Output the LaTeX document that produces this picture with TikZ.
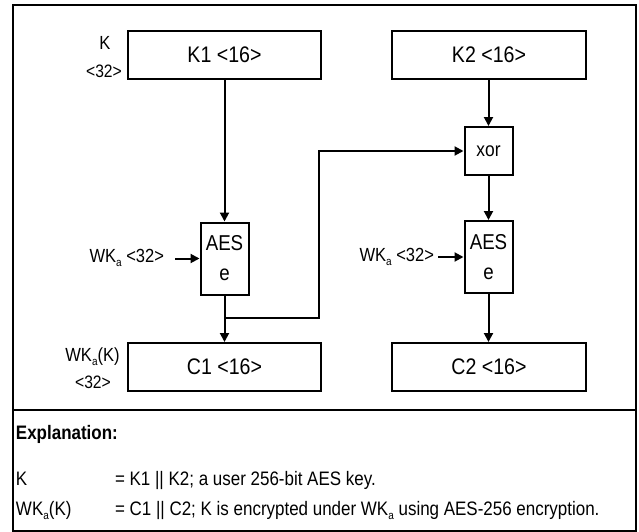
\documentclass[tikz,border=0pt]{standalone}
\usepackage{fontspec}
\setmainfont[FakeStretch=0.87]{Liberation Sans}
\usetikzlibrary{arrows.meta}
\newcommand\myfs[1]{\fontsize{#1}{#1}\selectfont}
\newcommand\sbs[1]{\raisebox{-4pt}{\myfs{11.5}#1}}
\begin{document}
\begin{tikzpicture}[x=1pt,y=-1pt,
  line width=2pt,
  box/.style={draw, line width=2pt, inner sep=0pt, font=\myfs{22.5}},
  wide/.style={box, minimum width=193pt, minimum height=48pt},
  sq/.style={box, minimum width=48pt, minimum height=48pt, font=\myfs{20}},
  aes/.style={box, minimum width=48pt, minimum height=72pt, align=center, font=\fontsize{21.5}{30}\selectfont},
  lbl/.style={inner sep=0pt, font=\myfs{19}},
  expl/.style={inner sep=0pt, anchor=base west, font=\myfs{19.5}},
  arr/.style={-{Triangle[length=9pt,width=9pt]}, line width=2pt}]
\useasboundingbox (0,0) rectangle (639,532);
% frame
\draw (13,5) rectangle (636,530.5);
\draw (13,410) -- (636,410);
% boxes
\node[wide] (k1) at (224.5,55) {K1 <16>};
\node[wide, minimum width=194pt] (k2) at (489,55) {K2 <16>};
\node[sq] (xor) at (488.5,151) {xor};
\node[aes] (aes1) at (224.5,258.5) {AES\\e};
\node[aes] (aes2) at (488.5,257) {AES\\e};
\node[wide] (c1) at (224.5,367) {C1 <16>};
\node[wide, minimum width=194pt] (c2) at (489,367) {C2 <16>};
% labels
\node[lbl] (lk) at (105,43) {K};
\node[lbl, font=\myfs{18}] (lk32) at (104,71) {<32>};
\node[lbl, anchor=base] (lc) at (92.5,361) {WK\sbs{a}(K)};
\node[lbl, font=\myfs{18}] (lc32) at (93,382) {<32>};
\node[lbl, anchor=base east] (w1l) at (165,262.5) {WK\sbs{a} <32>};
\node[lbl, anchor=base east] (w2l) at (435,261) {WK\sbs{a} <32>};
% connectors
\coordinate (w1) at (175,258.5);
\coordinate (w2) at (438,257);
\coordinate (j) at (224.5,318);
\coordinate (jr) at (319,318);
\draw[arr] (k1.south) -- (aes1.north);
\draw[arr] (aes1.south) -- (c1.north);
\draw[arr] (j) -- (jr) |- (xor.west);
\draw[arr] (k2.south -| xor.north) -- (xor.north);
\draw[arr] (xor.south) -- (aes2.north);
\draw[arr] (aes2.south) -- (aes2.south |- c2.north);
\draw[arr] (w1) -- (aes1.west);
\draw[arr] (w2) -- (aes2.west);
% explanation
\node[expl, font=\bfseries\myfs{19.5}] (ex) at (15,439) {Explanation:};
\node[expl] (ek) at (15,485.5) {K};
\node[expl] (ekd) at (114,485.5) {= K1 || K2; a user 256-bit AES key.};
\node[expl] (ew) at (15,515.5) {WK\sbs{a}(K)};
\node[expl] (ewd) at (114,515.5) {= C1 || C2; K is encrypted under WK\sbs{a} using AES-256 encryption.};
\end{tikzpicture}
\end{document}
